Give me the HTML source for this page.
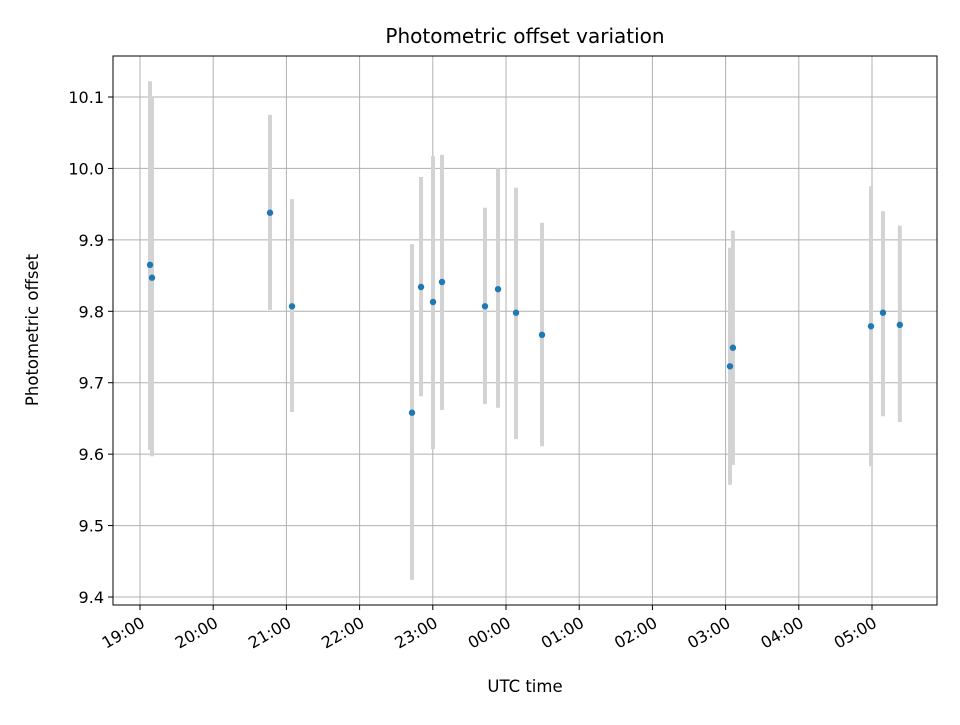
<!DOCTYPE html>
<html><head><meta charset="utf-8"><style>
body{margin:0;background:#fff;}
svg text{font-family:"DejaVu Sans","Liberation Sans",sans-serif;fill:#000;}
</style></head><body>
<svg id="chart" width="960" height="720" viewBox="0 0 960 720">
<rect width="960" height="720" fill="#fff"/>
<g id="grid"></g>
<g id="errs"></g>
<g id="pts"></g>
<rect x="113" y="56" width="824" height="549" fill="none" stroke="#000" stroke-width="1"/>
<g id="xt"></g>
<g id="yt"></g>
<text x="525" y="43" font-size="20" text-anchor="middle">Photometric offset variation</text>
<text x="525" y="692" font-size="16.5" text-anchor="middle">UTC time</text>
<text x="38" y="330" font-size="16.5" text-anchor="middle" transform="rotate(-90 38 330)">Photometric offset</text>
</svg>
<script>
const hours=[0.137,0.164,1.776,2.077,3.716,3.839,4.003,4.126,4.713,4.891,5.137,5.492,8.06,8.1,9.986,10.15,10.38];
const values=[9.865,9.847,9.938,9.807,9.658,9.834,9.813,9.841,9.807,9.831,9.798,9.767,9.723,9.749,9.779,9.798,9.781];
const errHi=[10.122,10.1,10.075,9.957,9.894,9.988,10.017,10.019,9.945,10.0,9.973,9.924,9.889,9.913,9.975,9.940,9.920];
const errLo=[9.606,9.597,9.802,9.659,9.424,9.681,9.607,9.662,9.670,9.665,9.621,9.611,9.557,9.585,9.583,9.653,9.645];
const xTickLabels=["19:00","20:00","21:00","22:00","23:00","00:00","01:00","02:00","03:00","04:00","05:00"];
const yTicks=[9.4,9.5,9.6,9.7,9.8,9.9,10.0,10.1];
const yTickLabels=["9.4","9.5","9.6","9.7","9.8","9.9","10.0","10.1"];
const X=h=>140+h*73.2;
const Y=v=>97+(10.1-v)*714.3;
const NS="http://www.w3.org/2000/svg";
function mk(t,p,a){const e=document.createElementNS(NS,t);for(const k in a)e.setAttribute(k,a[k]);p.appendChild(e);return e;}
const grid=document.getElementById('grid'),xt=document.getElementById('xt'),yt=document.getElementById('yt');
xTickLabels.forEach((l,i)=>{const x=X(i);
 const g=mk('line',grid,{x1:x,x2:x,y1:56,y2:605,stroke:'#b0b0b0','stroke-width':1});
 
 const t=mk('line',xt,{x1:x,x2:x,y1:605,y2:610,stroke:'#000'});
 
 const ax=x+6,ay=626;
 const tx=mk('text',xt,{x:ax,y:ay,'font-size':16,'text-anchor':'end',transform:`rotate(-30 ${ax} ${ay})`});
 tx.textContent=l;});
yTicks.forEach((v,i)=>{const y=Y(v);
 const g=mk('line',grid,{x1:113,x2:937,y1:y,y2:y,stroke:'#b0b0b0','stroke-width':1});
 
 const t=mk('line',yt,{x1:108,x2:113,y1:y,y2:y,stroke:'#000'});
 
 const tx=mk('text',yt,{x:104,y:y+6,'font-size':16,'text-anchor':'end'});
 tx.textContent=yTickLabels[i];});
const errs=document.getElementById('errs'),pts=document.getElementById('pts');
hours.forEach((h,i)=>{const x=X(h);
 const e=mk('line',errs,{x1:x,x2:x,y1:Y(errHi[i]),y2:Y(errLo[i]),stroke:'#d3d3d3','stroke-width':4});
 
 const c=mk('circle',pts,{cx:x,cy:Y(values[i]),r:3.2,fill:'#1f77b4'});
 });
</script>
</body></html>
